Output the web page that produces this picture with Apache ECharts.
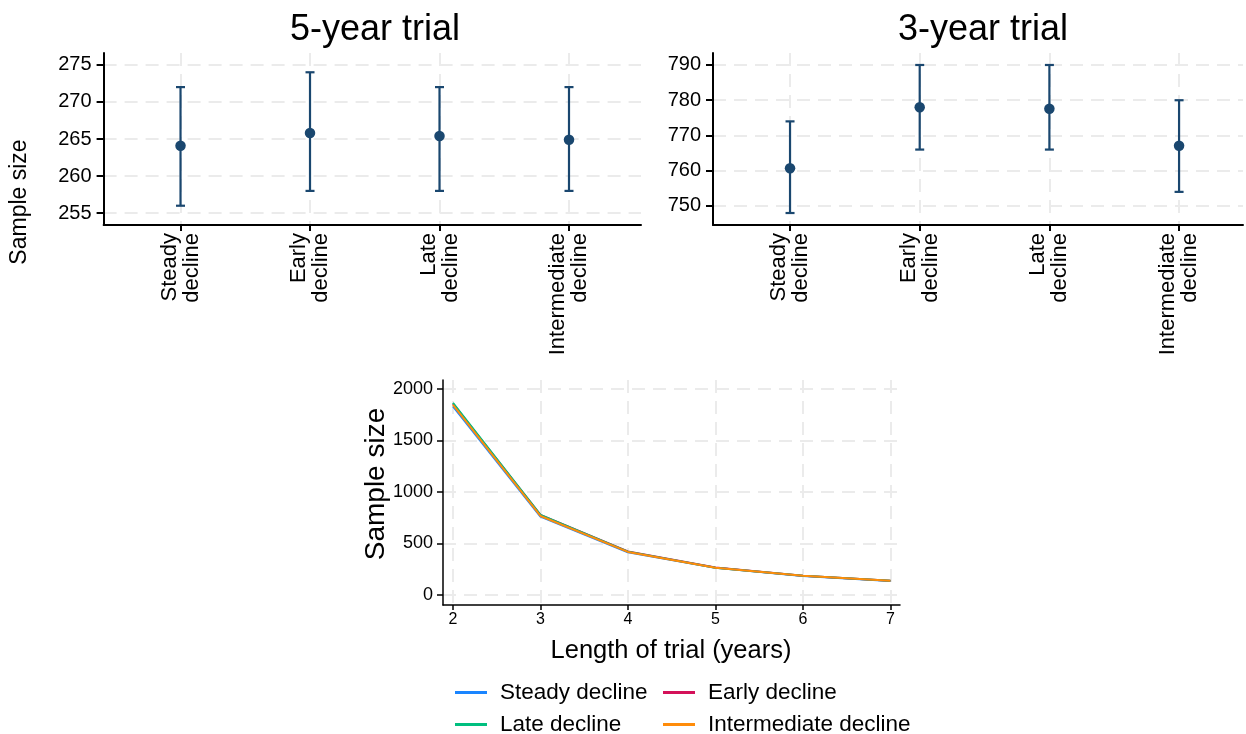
<!DOCTYPE html>
<html>
<head>
<meta charset="utf-8">
<script src="https://cdn.jsdelivr.net/npm/echarts@6/dist/echarts.min.js"></script>
<style>html,body{margin:0;padding:0;background:#fff;}#c{width:1246px;height:734px;}</style>
</head>
<body>
<div id="c"></div>
<script>
// ---- data ----
const categories = ['Steady\ndecline', 'Early\ndecline', 'Late\ndecline', 'Intermediate\ndecline'];
const fiveEst = [264.1, 265.8, 265.4, 264.9];
const fiveLo  = [256, 258, 258, 258];
const fiveHi  = [272, 274, 272, 272];
const threeEst = [760.7, 778.0, 777.6, 767.1];
const threeLo  = [748, 766, 766, 754];
const threeHi  = [774, 790, 790, 780];
const fiveTicks = [255, 260, 265, 270, 275];
const threeTicks = [750, 760, 770, 780, 790];
const years = [2, 3, 4, 5, 6, 7];
const steady = [1830, 761, 415, 264, 185, 137];
const early = [1858, 778, 422, 266, 187, 139];
const late = [1866, 778, 421, 265, 187, 138];
const intermediate = [1845, 767, 418, 265, 186, 138];
const lineTicks = [0, 500, 1000, 1500, 2000];
const seriesNames = ['Steady decline', 'Early decline', 'Late decline', 'Intermediate decline'];

const FONT = '"Liberation Sans", Arial, Helvetica, sans-serif';
const NAVY = '#1a476f';
const GRID = '#ebebeb';
const DASH = [13, 8];
const colors = ['#1a85ff', '#d41159', '#00bf7f', '#ff8c0a'];
const catPos = categories.map((c, i) => i + 1);

function errRender(params, api) {
  const x = api.value(0);
  const p1 = api.coord([x, api.value(1)]);
  const p2 = api.coord([x, api.value(2)]);
  const w = 4.5;
  const st = { stroke: NAVY, lineWidth: 2.2 };
  return { type: 'group', children: [
    { type: 'line', shape: { x1: p1[0], y1: p1[1], x2: p2[0], y2: p2[1] }, style: st },
    { type: 'line', shape: { x1: p1[0] - w, y1: p1[1], x2: p1[0] + w, y2: p1[1] }, style: st },
    { type: 'line', shape: { x1: p2[0] - w, y1: p2[1], x2: p2[0] + w, y2: p2[1] }, style: st }
  ]};
}

function catXAxis(gi, min, max) {
  return {
    type: 'value', gridIndex: gi, min: min, max: max,
    axisLine: { show: true, onZero: false, lineStyle: { color: '#000', width: 2 } },
    axisTick: { show: true, customValues: catPos, length: 6, lineStyle: { color: '#000', width: 2 } },
    axisLabel: { show: true, customValues: catPos, rotate: 90, margin: 8,
      formatter: v => categories[Math.round(v) - 1] || '',
      fontSize: 22, lineHeight: 22, color: '#000', fontFamily: FONT },
    splitLine: { show: true, lineStyle: { color: GRID, width: 2, type: DASH } }
  };
}
function valYAxis(gi, min, max, ticks) {
  return {
    type: 'value', gridIndex: gi, min: min, max: max,
    axisLine: { show: true, onZero: false, lineStyle: { color: '#000', width: 2 } },
    axisTick: { show: true, customValues: ticks, length: 7, lineStyle: { color: '#000', width: 2 } },
    axisLabel: { show: true, customValues: ticks, margin: 12, fontSize: 20, color: '#000', fontFamily: FONT,
      formatter: v => String(v) },
    splitLine: { show: true, lineStyle: { color: GRID, width: 2, type: DASH } }
  };
}
function legendItem(name, left, top) {
  return { left: left, top: top, padding: 0, itemWidth: 32, itemHeight: 3, icon: 'rect',
    data: [name], textStyle: { fontSize: 22.5, lineHeight: 26, color: '#000', fontFamily: FONT, padding: [0, 0, 0, 8] } };
}

const chart = echarts.init(document.getElementById('c'), null, { renderer: 'canvas' });
const lineData = [steady, early, late, intermediate];
const option = {
  animation: false,
  backgroundColor: '#fff',
  textStyle: { fontFamily: FONT },
  grid: [
    { left: 103.6, top: 53, width: 537.4, height: 172 },
    { left: 713, top: 53, width: 530, height: 172 },
    { left: 443, top: 380, width: 457, height: 225 }
  ],
  xAxis: [
    catXAxis(0, 0.406, 4.556),
    catXAxis(1, 0.406, 4.493),
    {
      type: 'value', gridIndex: 2, min: 1.886, max: 7.11,
      axisLine: { show: true, onZero: false, lineStyle: { color: '#000', width: 1.5 } },
      axisTick: { show: true, customValues: years, length: 5, lineStyle: { color: '#000', width: 1.5 } },
      axisLabel: { show: true, customValues: years, margin: 7, fontSize: 16, color: '#000', fontFamily: FONT,
        formatter: v => String(v) },
      splitLine: { show: true, lineStyle: { color: GRID, width: 2, type: DASH } }
    }
  ],
  yAxis: [
    valYAxis(0, 253.4, 276.6, fiveTicks),
    valYAxis(1, 744.6, 793.4, threeTicks),
    {
      type: 'value', gridIndex: 2, min: -97, max: 2087,
      axisLine: { show: true, onZero: false, lineStyle: { color: '#000', width: 1.5 } },
      axisTick: { show: true, customValues: lineTicks, length: 6, lineStyle: { color: '#000', width: 1.5 } },
      axisLabel: { show: true, customValues: lineTicks, margin: 10, fontSize: 18, color: '#000', fontFamily: FONT,
        formatter: v => String(v) },
      splitLine: { show: true, lineStyle: { color: GRID, width: 2, type: DASH } }
    }
  ],
  legend: [
    legendItem(seriesNames[0], 455, 679.5),
    legendItem(seriesNames[1], 663, 679.5),
    legendItem(seriesNames[2], 455, 711.5),
    legendItem(seriesNames[3], 663, 711.5)
  ],
  graphic: [
    { type: 'text', x: 375, y: 30, style: { text: '5-year trial', font: '36px ' + FONT, fill: '#000', align: 'center', verticalAlign: 'middle' } },
    { type: 'text', x: 983, y: 30, style: { text: '3-year trial', font: '36px ' + FONT, fill: '#000', align: 'center', verticalAlign: 'middle' } },
    { type: 'text', x: 20, y: 202, rotation: Math.PI / 2, style: { text: 'Sample size', font: '23px ' + FONT, fill: '#000', align: 'center', verticalAlign: 'middle' } },
    { type: 'text', x: 376, y: 484, rotation: Math.PI / 2, style: { text: 'Sample size', font: '28px ' + FONT, fill: '#000', align: 'center', verticalAlign: 'middle' } },
    { type: 'text', x: 671, y: 651, style: { text: 'Length of trial (years)', font: '25.5px ' + FONT, fill: '#000', align: 'center', verticalAlign: 'middle' } }
  ],
  series: [
    { type: 'custom', xAxisIndex: 0, yAxisIndex: 0, renderItem: errRender, silent: true,
      data: catPos.map((x, i) => [x, fiveLo[i], fiveHi[i]]) },
    { type: 'scatter', xAxisIndex: 0, yAxisIndex: 0, symbolSize: 10.5, itemStyle: { color: NAVY, opacity: 1 },
      data: catPos.map((x, i) => [x, fiveEst[i]]) },
    { type: 'custom', xAxisIndex: 1, yAxisIndex: 1, renderItem: errRender, silent: true,
      data: catPos.map((x, i) => [x, threeLo[i], threeHi[i]]) },
    { type: 'scatter', xAxisIndex: 1, yAxisIndex: 1, symbolSize: 10.5, itemStyle: { color: NAVY, opacity: 1 },
      data: catPos.map((x, i) => [x, threeEst[i]]) }
  ].concat(seriesNames.map((n, k) => ({
    type: 'line', name: n, xAxisIndex: 2, yAxisIndex: 2, showSymbol: false, symbol: 'none',
    color: colors[k], lineStyle: { color: colors[k], width: 2 },
    data: years.map((y, i) => [y, lineData[k][i]])
  })))
};
chart.setOption(option);
</script>
</body>
</html>
